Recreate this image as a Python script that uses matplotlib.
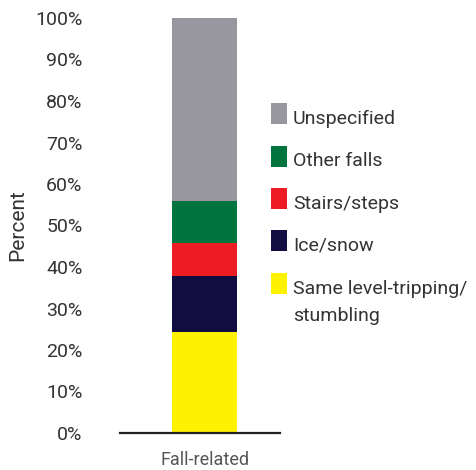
import matplotlib
matplotlib.use("Agg")
import matplotlib.pyplot as plt
from matplotlib.patches import Rectangle

plt.rcParams['font.family'] = ['Roboto', 'DejaVu Sans']

# --- data ---
category = ["Fall-related"]
labels = ["Same level-tripping/\nstumbling", "Ice/snow", "Stairs/steps", "Other falls", "Unspecified"]
values = [24.3, 13.5, 8.0, 10.1, 44.1]
colors = ["#fff200", "#110d40", "#ed1c24", "#00743f", "#98969f"]
yticks = [0, 10, 20, 30, 40, 50, 60, 70, 80, 90, 100]
ytick_labels = [f"{t}%" for t in yticks]

W, H = 477, 470
fig = plt.figure(figsize=(W / 100, H / 100), dpi=100)
ax = fig.add_axes([120 / W, 1 - 433 / H, 160 / W, 415 / H])

bottom = 0
for v, c in zip(values, colors):
    ax.bar(category, [v], bottom=bottom, width=0.65, color=c, linewidth=0)
    bottom += v

ax.set_xlim(-0.845, 0.755)
ax.set_ylim(0, 100)
ax.set_yticks(yticks)
ax.set_yticklabels(ytick_labels, fontsize=14, color="#333333")
ax.tick_params(axis="y", length=0, pad=27)
ax.tick_params(axis="x", length=0, pad=13, labelsize=13, labelcolor="#555555")
for s in ["top", "right", "left"]:
    ax.spines[s].set_visible(False)
ax.spines["bottom"].set_linewidth(1.6)
ax.spines["bottom"].set_color("#222222")

fig.text(18 / W, 1 - 225 / H, "Percent", rotation=90, ha="center", va="center",
         fontsize=15, color="#333333")

# --- legend (top entry first) ---
top_px = 103
step_px = 42.5
for i, (lab, c) in enumerate(zip(labels[::-1], colors[::-1])):
    y0 = top_px + i * step_px
    fig.patches.append(Rectangle((271 / W, 1 - (y0 + 21) / H), 16 / W, 21 / H,
                                 transform=fig.transFigure, color=c, linewidth=0))
    fig.text(293 / W, 1 - (y0 + 6.5) / H, lab, ha="left", va="top",
             fontsize=14, color="#333333", linespacing=1.7)

fig.savefig("out.png", dpi=100)
